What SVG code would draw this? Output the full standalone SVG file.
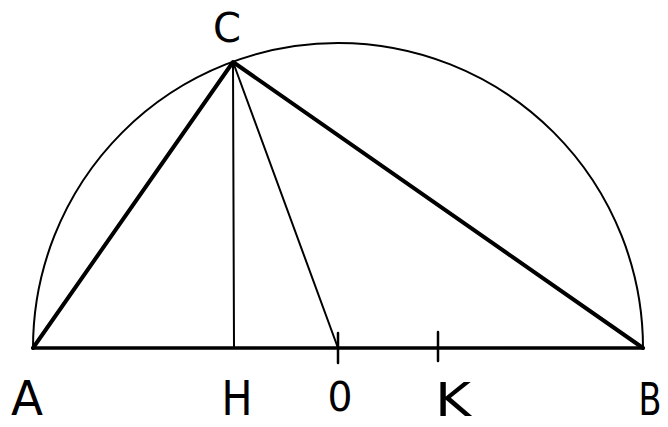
<svg xmlns="http://www.w3.org/2000/svg" width="668" height="427" viewBox="0 0 668 427">
<style>
.thin{fill:none;stroke:#000;stroke-width:2;stroke-linecap:round}
.thick{fill:none;stroke:#000;stroke-width:4;stroke-linecap:round;stroke-linejoin:round}
.lbl{font-family:"DejaVu Sans","Liberation Sans",sans-serif;fill:#000;text-anchor:middle;font-weight:normal}
</style>
<rect width="668" height="427" fill="#fff"/>
<g id="circle"><path class="thin" d="M33,348 A305,305 0 0 1 643,348"/></g>
<g id="connectors">
<line class="thick" x1="33" y1="348" x2="643" y2="348" style="stroke-width:3.5"/>
<polyline class="thick" points="33,348 233,62 643,348"/>
<line class="thin" x1="233" y1="62" x2="234" y2="348"/>
<line class="thin" x1="233" y1="62" x2="338" y2="348"/>
<line class="thin" x1="338" y1="333" x2="338" y2="363" style="stroke-width:2.5"/>
<line class="thin" x1="438" y1="332" x2="438" y2="361" style="stroke-width:2.5"/>
</g>
<g id="labels">
<text class="lbl" x="227" y="42" font-size="40" textLength="28" lengthAdjust="spacingAndGlyphs">C</text>
<text class="lbl" x="27" y="415" font-size="48" textLength="32" lengthAdjust="spacingAndGlyphs">A</text>
<text class="lbl" x="237" y="415" font-size="48" textLength="31" lengthAdjust="spacingAndGlyphs">H</text>
<text class="lbl" x="340" y="411" font-size="40" textLength="25" lengthAdjust="spacingAndGlyphs">0</text>
<text class="lbl" x="453" y="416" font-size="46" textLength="36" lengthAdjust="spacingAndGlyphs">K</text>
<text class="lbl" x="650" y="415" font-size="44" textLength="23" lengthAdjust="spacingAndGlyphs">B</text>
</g>
</svg>
